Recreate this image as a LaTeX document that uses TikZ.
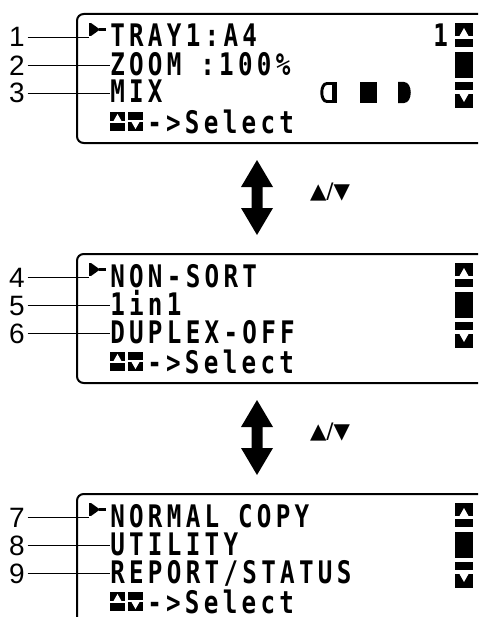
\documentclass[tikz,border=0pt]{standalone}
\usepackage{fontspec}
\setmainfont{Liberation Sans}
\newfontfamily\lcd[FakeStretch=0.78,LetterSpace=13.8]{DejaVu Sans Mono}
\newfontfamily\symfont{DejaVu Sans}
\tikzset{
  lcdtext/.style={anchor=base west, inner sep=0pt, font=\lcd\bfseries\fontsize{23.3}{23.3}\selectfont},
  numlabel/.style={anchor=base east, inner sep=0pt, font=\fontsize{21}{21}\selectfont},
  leader/.style={line width=0.9pt},
  panel/.style={draw, line width=1.5pt, rounded corners=5pt, anchor=north west,
    minimum width=330pt, minimum height=96.75pt, inner sep=0pt},
  bigarrow/.style={fill=black},
}
\newcommand\lcdpanel[8]{%
\begin{scope}[shift={(0,#2)}]
  \node[panel] (#1box) at (76,0) {};
  \node[lcdtext] (#1r1) at (110,34) {#3};
  \node[lcdtext] (#1r2) at (110,62) {#4};
  \node[lcdtext] (#1r3) at (110,90) {#5};
  \node[lcdtext] (#1sel) at (147,120) {->Select};
  \node[numlabel] (#1n1) at (25,34) {#6};
  \node[numlabel] (#1n2) at (25,62) {#7};
  \node[numlabel] (#1n3) at (25,90) {#8};
  % pointer
  \coordinate (#1p) at (89,22);
  \fill (88.5,10) rectangle (91,23);
  \fill (91,10) -- (100,16.5) -- (91,23) -- cycle;
  \fill (99,15.3) rectangle (106,17.7);
  % leaders
  \draw[leader] ([xshift=2pt]#1n1.east) -- (#1n1.east -| #1p);
  \draw[leader] ([xshift=2pt]#1n2.east) -- (#1n2.east -| #1r2.west);
  \draw[leader] ([xshift=2pt]#1n3.east) -- (#1n3.east -| #1r3.west);
  % scrollbar
  \fill (455,10) rectangle (473,23);
  \fill[white] (459.5,23) -- (464,15) -- (468.5,23) -- cycle;
  \fill (455,26) rectangle (473,34);
  \fill (455,39) rectangle (473,65);
  \fill (455,69) rectangle (473,77);
  \fill (455,81) rectangle (473,95);
  \fill[white] (459.5,81) -- (464,89) -- (468.5,81) -- cycle;
  % select icons
  \fill (110,99) rectangle (125,108);
  \fill[white] (113.5,108) -- (117.5,101) -- (121.5,108) -- cycle;
  \fill (110,110) rectangle (125,118);
  \fill (128,99) rectangle (143,107);
  \fill (128,109) rectangle (143,118);
  \fill[white] (131.5,109) -- (135.5,116) -- (139.5,109) -- cycle;
\end{scope}}
\begin{document}
\begin{tikzpicture}[x=0.75pt,y=-0.75pt]
\useasboundingbox (0,0) rectangle (478,617);
\clip (0,0) rectangle (478,617);
\lcdpanel{a}{13}{TRAY1:A4}{ZOOM :100\%}{MIX}{1}{2}{3}
\lcdpanel{b}{253}{NON-SORT}{1in1}{DUPLEX-OFF}{4}{5}{6}
\lcdpanel{c}{493}{NORMAL COPY}{UTILITY}{REPORT/STATUS}{7}{8}{9}
% page number and MIX icons in first panel
\node[lcdtext] (apage) at (433,47) {1};
\draw[line width=2.2pt] (334,83.5) -- (327,83.5) .. controls (320,83.5) and (320,101.5) .. (327,101.5) -- (334,101.5);
\fill (332,82) rectangle (337,103);
\fill (360,82) rectangle (377,103);
\fill (398,82) -- (404,82) .. controls (413,82) and (413,103) .. (404,103) -- (398,103) -- cycle;
% double arrows
\foreach \k/\dy in {1/0,2/240}{
  \fill[bigarrow] (257,160+\dy) -- (273,187+\dy) -- (262.5,187+\dy) -- (262.5,208+\dy) -- (273,208+\dy)
    -- (257,235+\dy) -- (241,208+\dy) -- (251.5,208+\dy) -- (251.5,187+\dy) -- (241,187+\dy) -- cycle;
  \node[font=\symfont\fontsize{16}{16}\selectfont, inner sep=0pt] (keys\k) at (330,192+\dy) {▲/▼};
}
\end{tikzpicture}
\end{document}
